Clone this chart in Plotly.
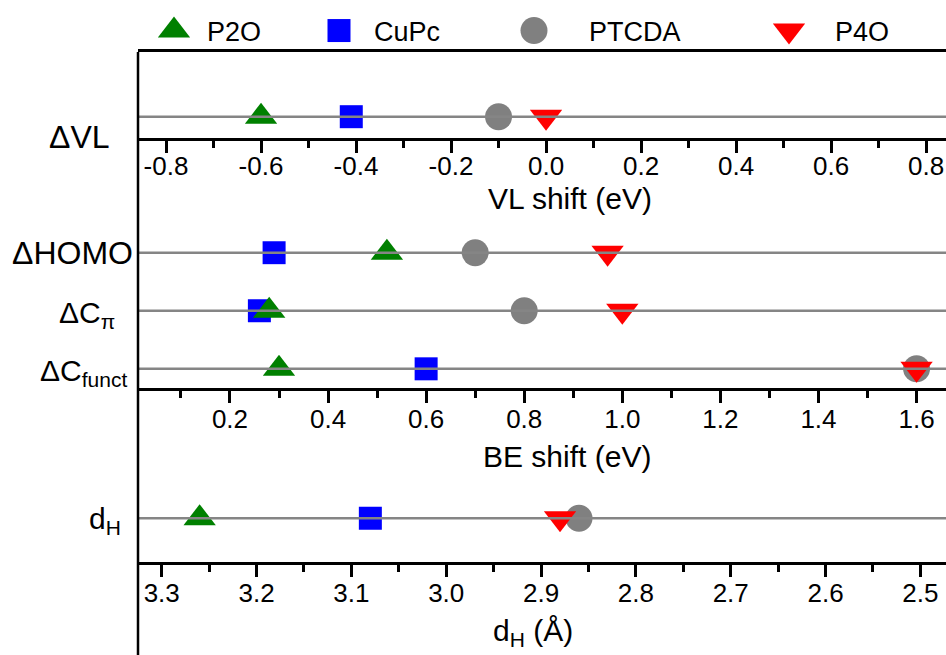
import plotly.graph_objects as go

# ---- data ----
series = ["P2O", "CuPc", "PTCDA", "P4O"]
vl_shift = [-0.60, -0.41, -0.10, 0.00]          # VL shift (eV)
homo_shift = [0.52, 0.29, 0.70, 0.97]           # BE shift of HOMO (eV)
cpi_shift = [0.28, 0.26, 0.80, 1.00]            # BE shift of C pi (eV)
cfunct_shift = [0.30, 0.60, 1.60, 1.60]         # BE shift of C funct (eV)
d_h = [3.26, 3.08, 2.86, 2.88]                  # adsorption height (Å)

be_rows = ["ΔHOMO", "ΔC<sub>π</sub>", "ΔC<sub>funct</sub>"]
be_row_pos = [2, 1, 0]

vl_tickvals = [-0.8, -0.6, -0.4, -0.2, 0.0, 0.2, 0.4, 0.6, 0.8]
vl_ticktext = ["-0.8", "-0.6", "-0.4", "-0.2", "0.0", "0.2", "0.4", "0.6", "0.8"]
be_tickvals = [0.2, 0.4, 0.6, 0.8, 1.0, 1.2, 1.4, 1.6]
be_ticktext = ["0.2", "0.4", "0.6", "0.8", "1.0", "1.2", "1.4", "1.6"]
dh_tickvals = [3.3, 3.2, 3.1, 3.0, 2.9, 2.8, 2.7, 2.6, 2.5]
dh_ticktext = ["3.3", "3.2", "3.1", "3.0", "2.9", "2.8", "2.7", "2.6", "2.5"]

# ---- styles ----
style = {
    "P2O": dict(symbol="triangle-up", color="#008000", size=28),
    "CuPc": dict(symbol="square", color="#0000FF", size=23),
    "PTCDA": dict(symbol="circle", color="#808080", size=27),
    "P4O": dict(symbol="triangle-down", color="#FF0000", size=28),
}
legend_ids = {"P2O": "legend", "CuPc": "legend2", "PTCDA": "legend3", "P4O": "legend4"}
draw_order = ["CuPc", "P2O", "PTCDA", "P4O"]

FONT = "Arial, 'Liberation Sans', sans-serif"
W, H = 946, 655
ML, MT = 138, 52
PW, PH = W - ML, H - MT


def px_x(px):
    return (px - ML) / PW


def px_y(py):
    return (H - py) / PH


fig = go.Figure()

for name in draw_order:
    i = series.index(name)
    st = style[name]
    mk = dict(symbol=st["symbol"], color=st["color"], size=st["size"], line=dict(width=0))
    fig.add_trace(go.Scatter(x=[vl_shift[i]], y=[0], mode="markers", marker=mk, name=name,
                             legend=legend_ids[name], showlegend=True,
                             xaxis="x", yaxis="y", hoverinfo="skip"))
    fig.add_trace(go.Scatter(x=[homo_shift[i], cpi_shift[i], cfunct_shift[i]], y=be_row_pos,
                             mode="markers", marker=mk, name=name, showlegend=False,
                             xaxis="x2", yaxis="y2", hoverinfo="skip"))
    fig.add_trace(go.Scatter(x=[d_h[i]], y=[0], mode="markers", marker=mk, name=name,
                             showlegend=False, xaxis="x3", yaxis="y3", hoverinfo="skip"))


def xstyle(tickvals, ticktext, rng, minor_dtick, anchor, label_standoff):
    return dict(
        domain=[0, 1], anchor=anchor, range=rng,
        showline=True, linecolor="black", linewidth=2.5,
        tickmode="array", tickvals=tickvals, ticktext=ticktext,
        ticks="outside", ticklen=12, tickwidth=2.5, tickcolor="black",
        ticklabelstandoff=label_standoff,
        minor=dict(tickmode="linear", tick0=0, dtick=minor_dtick, ticks="outside",
                   ticklen=7, tickwidth=2.5, tickcolor="black", showgrid=False),
        showgrid=False, zeroline=False, fixedrange=True,
        tickfont=dict(family=FONT, size=26, color="black"),
    )


ystyle = dict(visible=False, fixedrange=True, showgrid=False, zeroline=False)

xa1 = xstyle(vl_tickvals, vl_ticktext, [-0.859, 0.842], 0.1, "y", -9)
xa1["mirror"] = True   # top frame line of the VL panel

fig.update_layout(
    width=W, height=H,
    margin=dict(l=ML, r=0, t=MT, b=0, autoexpand=False),
    paper_bgcolor="white", plot_bgcolor="white",
    font=dict(family=FONT, color="black"),
    xaxis=xa1,
    xaxis2=xstyle(be_tickvals, be_ticktext, [0.0125, 1.66], 0.1, "y2", -6),
    xaxis3=xstyle(dh_tickvals, dh_ticktext, [3.325, 2.473], 0.05, "y3", -6),
    yaxis=dict(domain=[0.8574, 1.0], range=[-1, 3.04], anchor="x", **ystyle),
    yaxis2=dict(domain=[0.4428, 0.725], range=[-0.33, 2.6], anchor="x2", **ystyle),
    yaxis3=dict(domain=[0.1537, 0.30], range=[-1, 1], anchor="x3", **ystyle),
)

# legends, one per sample, along the top
legend_text_px = {"P2O": 208, "CuPc": 375, "PTCDA": 590, "P4O": 836}
for name in series:
    lid = legend_ids[name]
    fig.update_layout({lid: dict(
        x=px_x(legend_text_px[name] - 41), xanchor="left",
        y=px_y(31), yanchor="middle", orientation="h",
        bgcolor="rgba(0,0,0,0)", borderwidth=0,
        font=dict(family=FONT, size=27, color="black"),
    )})

# grey guide line through every row, drawn over the markers
rows = [("x", "y", 0)] + [("x2", "y2", r) for r in be_row_pos] + [("x3", "y3", 0)]
for xref, yref, yv in rows:
    fig.add_shape(type="line", xref=f"{xref} domain", x0=0, x1=1, yref=yref, y0=yv, y1=yv,
                  line=dict(color="#858585", width=2.5), layer="above")

# continuous left frame line
fig.add_shape(type="line", xref="paper", yref="paper", x0=0, x1=0, y0=0, y1=1,
              line=dict(color="black", width=2.5), layer="above")

# row labels
labels = [
    ("ΔVL", "y", 0, 112, -20, 32),
    (be_rows[0], "y2", be_row_pos[0], 135, 0, 32),
    (be_rows[1], "y2", be_row_pos[1], 117, -4, 30),
    (be_rows[2], "y2", be_row_pos[2], 129, -4, 30),
    ("d<sub>H</sub>", "y3", 0, 123, -2, 30),
]
for text, yref, yv, right_px, ysh, fs in labels:
    fig.add_annotation(text=text, xref="paper", x=0, xanchor="right", xshift=right_px - ML,
                       yref=yref, y=yv, yanchor="middle", yshift=ysh, showarrow=False,
                       font=dict(family=FONT, size=fs, color="black"))

# axis titles
titles = [
    ("VL shift (eV)", 570, 198),
    ("BE shift (eV)", 567, 456),
    ("d<sub>H</sub> (Å)", 533, 632),
]
for text, cx, cy in titles:
    fig.add_annotation(text=text, xref="paper", x=px_x(cx), xanchor="center",
                       yref="paper", y=px_y(cy), yanchor="middle", showarrow=False,
                       font=dict(family=FONT, size=30, color="black"))

# enlarge legend symbols to the marker size used in the panels
symbol_gap = {"P2O": 33, "CuPc": 35, "PTCDA": 55, "P4O": 46}
js = ["document.querySelectorAll('.scrollbox').forEach(function(g){g.removeAttribute('clip-path');});"]
for name in series:
    s = style[name]["size"] / 16.0
    tx = 40 - symbol_gap[name]
    js.append(
        "document.querySelectorAll('g.%s .legendpoints path.scatterpts').forEach(function(p){"
        "p.setAttribute('transform','translate(%d,0) scale(%.3f)');});" % (legend_ids[name], tx, s)
    )

fig.write_html("out.html", post_script="".join(js))
